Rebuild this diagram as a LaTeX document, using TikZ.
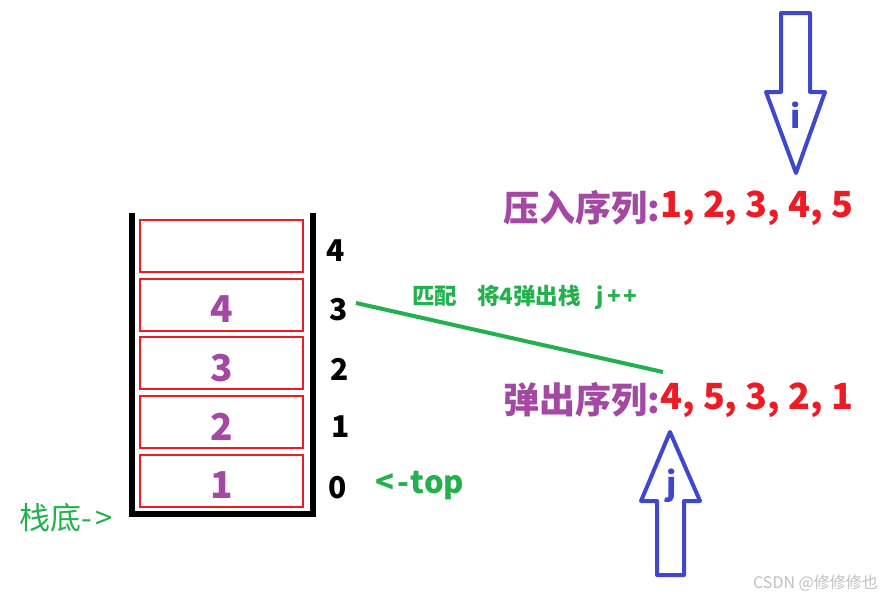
\documentclass[tikz,border=0pt]{standalone}
\usepackage{fontspec}
\setmainfont{Noto Sans CJK SC}
\definecolor{pRed}{RGB}{237,28,36}
\definecolor{pPurple}{RGB}{163,73,164}
\definecolor{pGreen}{RGB}{34,177,76}
\definecolor{pBlue}{RGB}{63,72,204}
\begin{document}
\begin{tikzpicture}[x=1pt,y=-1pt,
  wall/.style={line width=6pt,black,line join=miter},
  cell/.style={draw=pRed,line width=2pt,minimum width=163pt,minimum height=52pt,inner sep=0pt},
  num/.style={text=pPurple,font=\bfseries\fontsize{37}{37}\selectfont,inner sep=0pt},
  idx/.style={text=black,font=\bfseries\fontsize{30}{30}\selectfont,inner sep=0pt},
  big/.style={font=\bfseries\fontsize{36}{36}\selectfont,inner sep=0pt},
  bigarrow/.style={draw=pBlue,line width=4pt,line join=round},
  arrlabel/.style={text=pBlue,font=\bfseries\fontsize{32}{32}\selectfont,inner sep=0pt},
  gtext/.style={text=pGreen,inner sep=0pt}]
\useasboundingbox (0,0) rectangle (883,598);
\fill[white] (0,0) rectangle (883,598);
% stack walls
\draw[wall] (132,213) -- (132,514) -- (313,514) -- (313,213);
% cells
\node[cell] (c4) at (221.5,246) {};
\node[cell] (c3) at (221.5,304.5) {};
\node[cell] (c2) at (221.5,363) {};
\node[cell] (c1) at (221.5,421.5) {};
\node[cell] (c0) at (221.5,480.5) {};
\node[num] (v3) at ([yshift=-5pt]c3.center) {4};
\node[num] (v2) at ([yshift=-5pt]c2.center) {3};
\node[num] (v1) at ([yshift=-5pt]c1.center) {2};
\node[num] (v0) at ([yshift=-5pt]c0.center) {1};
% indices
\node[idx] (i4) at (336,251) {4};
\node[idx] (i3) at (339,310) {3};
\node[idx] (i2) at (340,369) {2};
\node[idx] (i1) at (341,427) {1};
\node[idx] (i0) at (338,488) {0};
\node[gtext,anchor=west,font=\bfseries\fontsize{31}{31}\selectfont] (top) at (375,486) {<\hspace{3pt}-\hspace{2pt}top};
\node[gtext,anchor=west,font=\fontsize{31}{31}\selectfont] (bottom) at (19,518) {栈底-\hspace{4pt}>};
% push / pop sequences
\node[big,text=pPurple,anchor=west] (pushL) at (503,208) {压入序列:};
\node[big,text=pRed,anchor=west] (pushS) at (pushL.east) {1, 2, 3, 4, 5};
\node[big,text=pPurple,anchor=west] (popL) at (503,400) {弹出序列:};
\node[big,text=pRed,anchor=west] (popS) at (popL.east) {4, 5, 3, 2, 1};
% match line
\coordinate (m1) at (356,303);
\coordinate (m2) at (663,372);
\draw[pGreen,line width=4pt] (m1) -- (m2);
\node[gtext,anchor=west,font=\bfseries\fontsize{22.5}{22.5}\selectfont] (match) at (412,297) {匹配\hspace{20pt}将4弹出栈\hspace{16pt}j\hspace{3pt}+\hspace{3pt}+};
% arrow i (down)
\draw[bigarrow] (781,13) -- (810,13) -- (810,92) -- (825,92) -- (796,173) -- (766,92) -- (781,92) -- cycle;
\node[arrlabel] (ai) at (796,115) {i};
% arrow j (up)
\draw[bigarrow] (670,432) -- (700,501) -- (684,501) -- (684,575) -- (657,575) -- (657,501) -- (641,501) -- cycle;
\node[arrlabel] (aj) at (672,486) {j};
% watermark
\node[text=black!25,font=\fontsize{16}{16}\selectfont,anchor=east,inner sep=0pt] (wm) at (878,583) {CSDN @修修修也};
\end{tikzpicture}
\end{document}
